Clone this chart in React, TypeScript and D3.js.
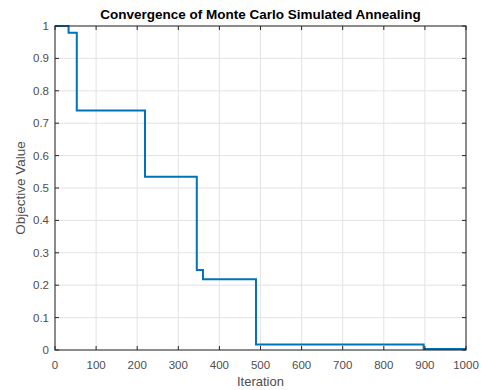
import React from "react";
import * as d3 from "d3";

// Best objective value found so far, as a step function of the iteration count
const stepIterations = [0, 33, 53, 219, 345, 360, 489, 897, 1000];
const stepValues = [1.0, 0.979, 0.739, 0.535, 0.247, 0.218, 0.017, 0.003, 0.003];

const xTicks = [0, 100, 200, 300, 400, 500, 600, 700, 800, 900, 1000];
const yTicks = [0, 0.1, 0.2, 0.3, 0.4, 0.5, 0.6, 0.7, 0.8, 0.9, 1];

const W = 481;
const H = 390;
const margin = { left: 55, right: 15, top: 26, bottom: 40 };
const FONT = "'Liberation Sans', Arial, Helvetica, sans-serif";
const AXIS = "#262626";
const LABEL = "#4d4d4d";

export default function App() {
  const x = d3.scaleLinear().domain([0, 1000]).range([margin.left, W - margin.right]);
  const y = d3.scaleLinear().domain([0, 1]).range([H - margin.bottom, margin.top]);

  const pts: [number, number][] = stepIterations.map((it, i) => [it, stepValues[i]]);
  const line = d3
    .line<[number, number]>()
    .x((d) => x(d[0]))
    .y((d) => y(d[1]))
    .curve(d3.curveStepAfter);

  const x0 = x(0), x1 = x(1000), y0 = y(0), y1 = y(1);
  const tl = 4;

  return (
    <div style={{ position: "absolute", left: 0, top: 0 }}>
      <svg width={W} height={H} style={{ display: "block", background: "#fff" }}>
        <rect x={0} y={0} width={W} height={H} fill="#fff" />
        {/* grid */}
        {xTicks.map((t) => (
          <line key={"gx" + t} x1={x(t)} x2={x(t)} y1={y0} y2={y1} stroke="#e3e3e3" strokeWidth={1} />
        ))}
        {yTicks.map((t) => (
          <line key={"gy" + t} x1={x0} x2={x1} y1={y(t)} y2={y(t)} stroke="#e3e3e3" strokeWidth={1} />
        ))}
        {/* data */}
        <path d={line(pts) ?? ""} fill="none" stroke="#0072BD" strokeWidth={2} />
        {/* box */}
        <rect x={x0} y={y1} width={x1 - x0} height={y0 - y1} fill="none" stroke={AXIS} strokeWidth={1} />
        {/* ticks */}
        {xTicks.map((t) => (
          <g key={"tx" + t}>
            <line x1={x(t)} x2={x(t)} y1={y0} y2={y0 - tl} stroke={AXIS} />
            <line x1={x(t)} x2={x(t)} y1={y1} y2={y1 + tl} stroke={AXIS} />
            <text x={x(t)} y={y0 + 19} textAnchor="middle" fontFamily={FONT} fontSize={11.5} fill={LABEL}>
              {t}
            </text>
          </g>
        ))}
        {yTicks.map((t) => (
          <g key={"ty" + t}>
            <line x1={x0} x2={x0 + tl} y1={y(t)} y2={y(t)} stroke={AXIS} />
            <line x1={x1} x2={x1 - tl} y1={y(t)} y2={y(t)} stroke={AXIS} />
            <text x={x0 - 6} y={y(t) + 4} textAnchor="end" fontFamily={FONT} fontSize={11.5} fill={LABEL}>
              {String(t)}
            </text>
          </g>
        ))}
        {/* labels */}
        <text x={(x0 + x1) / 2} y={19} textAnchor="middle" fontFamily={FONT} fontSize={13.5} fontWeight="bold" fill="#000">
          Convergence of Monte Carlo Simulated Annealing
        </text>
        <text x={(x0 + x1) / 2} y={386} textAnchor="middle" fontFamily={FONT} fontSize={13} fill={LABEL}>
          Iteration
        </text>
        <text
          transform={`translate(25, ${(y0 + y1) / 2}) rotate(-90)`}
          textAnchor="middle"
          fontFamily={FONT}
          fontSize={13.5}
          fill={LABEL}
        >
          Objective Value
        </text>
      </svg>
    </div>
  );
}
